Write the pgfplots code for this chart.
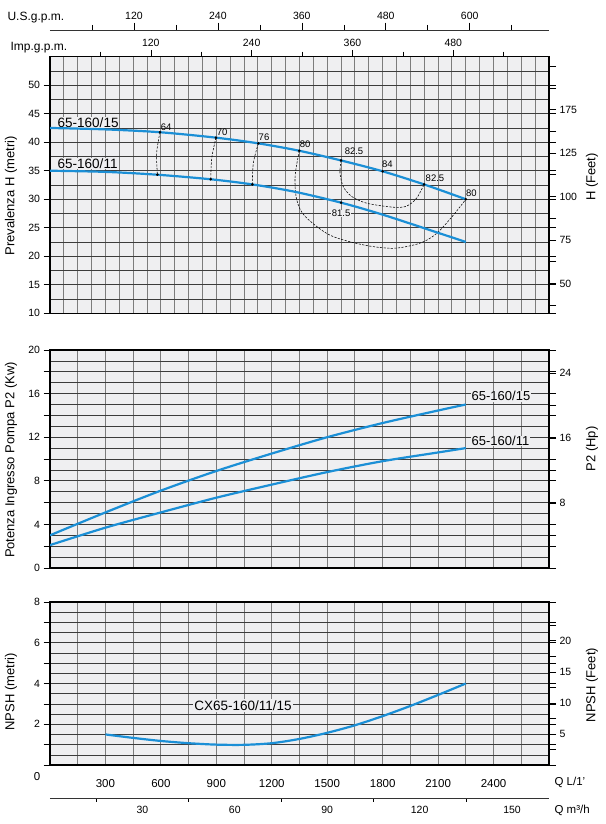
\documentclass[border=0pt]{standalone}
\usepackage{fontspec}
\setmainfont{Liberation Sans}
\usepackage{pgfplots}
\pgfplotsset{compat=1.18}
\definecolor{gridbg}{HTML}{EFEFF1}
\definecolor{pcurve}{HTML}{1B8FD6}
\definecolor{hgrid}{HTML}{3C3C3C}
\definecolor{vgrid}{HTML}{7C7C7C}
\newcommand{\fs}[1]{\fontsize{#1}{#1}\selectfont}
\tikzset{elab/.style={font=\fs{9.5}, inner sep=0.5pt}}
\pgfplotsset{
  panel/.style={
    scale only axis, width=499pt,
    xmin=0, xmax=2700,
    axis background/.style={fill=gridbg},
    axis line style={line width=1.3pt, black},
    /pgf/number format/assume math mode=true,
    tick align=outside,
    major tick length=6.5pt, minor tick length=0pt,
    xtick style={draw=none},
    ytick style={black, line width=0.6pt},
    xmajorgrids, ymajorgrids, yminorgrids,
    major x grid style={vgrid, line width=1.0pt},
    major y grid style={hgrid, line width=0.6pt},
    minor y grid style={hgrid, line width=0.6pt},
    yticklabel style={font=\fs{10.5}},
    xticklabels={},
  },
  rpanel/.style={
    scale only axis, width=499pt,
    xmin=0, xmax=2700,
    axis x line=none, axis y line*=right,
    axis line style={line width=1.3pt, black},
    /pgf/number format/assume math mode=true,
    tick align=outside, major tick length=7pt,
    ytick style={black, line width=0.6pt},
    yticklabel style={font=\fs{10.5}},
  },
  curve/.style={pcurve, line width=2.2pt, smooth},
  eff/.style={black, line width=0.55pt, dash pattern=on 2.2pt off 1.4pt, smooth},
  dots/.style={only marks, mark=*, mark size=1.1pt, black},
}
\begin{document}
\begin{tikzpicture}
\useasboundingbox (0,0) rectangle (605pt,824pt);

% ---------- US gpm axis ----------
\begin{axis}[scale only axis, width=499pt, height=10pt, at={(50pt,784pt)}, anchor=south west,
  xmin=0, xmax=713.34, ymin=0, ymax=1, axis y line=none, axis x line*=top,
  axis line style={line width=0.8pt, black!80},
  xtick={120,240,360,480,600}, minor xtick={60,180,300,420,540,660},
  tick align=outside, major tick length=7.3pt, minor tick length=5pt,
  tick style={black, line width=0.6pt},
  xticklabel style={font=\fs{10.5}}, /pgf/number format/assume math mode=true]
\addplot[draw=none] coordinates {(0,0)};
\end{axis}

% ---------- Panel 1 : head ----------
\begin{axis}[panel, at={(50pt,510.7pt)}, anchor=south west, height=256.6pt,
  ymin=10, ymax=55, xtick={0,75,...,2700}, ytick={10,15,...,50}, minor ytick={12.5,17.5,...,52.5},
  ylabel={Prevalenza H (metri)},
  every axis y label/.style={at={(axis description cs:-0.078,0.457)}, rotate=90, anchor=center, font=\fs{13}}]
\node[anchor=west, font=\fs{13.5}, fill=gridbg, inner sep=0.5pt] at (axis cs:38,43.5) {65-160/15};
\node[anchor=west, font=\fs{13.5}, fill=gridbg, inner sep=0.5pt] at (axis cs:38,36.2) {65-160/11};
% efficiency lines
\addplot[eff] coordinates {(595,41.75) (577,38.1) (581,34.3)};
\addplot[eff] coordinates {(898,40.8) (875,37.2) (870,33.5)};
\addplot[eff] coordinates {(1127,39.8) (1100,36.3) (1095,32.6)};
\addplot[eff] coordinates {(1349,38.5) (1326,34.0) (1335,29.9) (1380,27.0) (1515,23.7) (1695,22.0) (1858,21.4) (2002,22.3) (2092,24.0) (2182,27.2) (2250,30.0)};
\addplot[eff] coordinates {(1575,36.8) (1569,34.6) (1587,32.2) (1632,30.5) (1714,29.3) (1858,28.6) (1930,28.8) (1984,30.2) (2024,32.6)};
% curves
\addplot[curve] coordinates {(0,42.5) (300,42.25) (595,41.75) (898,40.8) (1127,39.8) (1349,38.5) (1575,36.8) (1800,34.9) (2024,32.6) (2250,30.0)};
\addplot[curve] coordinates {(0,35.0) (300,34.8) (581,34.3) (870,33.5) (1095,32.6) (1326,31.3) (1575,29.4) (1800,27.3) (2092,24.2) (2250,22.5)};
\addplot[dots] coordinates {(595,41.75) (898,40.8) (1127,39.8) (1349,38.5) (1575,36.8) (1800,34.9) (2024,32.6) (2250,30.0) (581,34.3) (870,33.5) (1095,32.6) (1575,29.4)};
\node[elab] at (axis cs:628,42.7) {64};
\node[elab] at (axis cs:931,41.8) {70};
\node[elab] at (axis cs:1158,40.8) {76};
\node[elab] at (axis cs:1380,39.7) {80};
\node[elab] at (axis cs:1645,38.5) {82.5};
\node[elab] at (axis cs:1825,36.1) {84};
\node[elab] at (axis cs:2083,33.6) {82.5};
\node[elab] at (axis cs:2280,31.05) {80};
\node[elab, fill=gridbg] at (axis cs:1575,27.5) {81.5};
\end{axis}

% Imp gpm on top of panel 1
\begin{axis}[scale only axis, width=499pt, height=256.6pt, at={(50pt,510.7pt)}, anchor=south west,
  xmin=0, xmax=593.93, ymin=0, ymax=1, axis y line=none, axis x line*=top,
  axis line style={line width=1.3pt, black},
  xtick={120,240,360,480}, minor xtick={60,180,300,420,540},
  tick align=outside, major tick length=6.7pt, minor tick length=5pt,
  tick style={black, line width=0.6pt},
  xticklabel style={font=\fs{10.5}}, /pgf/number format/assume math mode=true]
\addplot[draw=none] coordinates {(0,0)};
\end{axis}

% right: H feet
\begin{axis}[rpanel, at={(50pt,510.7pt)}, anchor=south west, height=256.6pt,
  ymin=32.808, ymax=180.446,
  ytick={37.5,50,62.5,75,87.5,100,112.5,125,137.5,150,162.5,175},
  yticklabels={,50,,75,,100,,125,,175,,},
  ylabel={H (Feet)},
  every axis y label/.style={at={(axis description cs:1.086,0.531)}, rotate=90, anchor=center, font=\fs{13}}]
\addplot[draw=none] coordinates {(0,40)};
\end{axis}

% ---------- Panel 2 : power ----------
\begin{axis}[panel, at={(50pt,256pt)}, anchor=south west, height=218pt,
  ymin=0, ymax=20, xtick={0,150,...,2700}, ytick={0,2,...,20}, yticklabels={0,,4,,8,,12,,16,,20},
  minor ytick={1,3,...,19},
  ylabel={Potenza Ingresso Pompa P2 (Kw)},
  every axis y label/.style={at={(axis description cs:-0.078,0.495)}, rotate=90, anchor=center, font=\fs{13}}]
\node[anchor=west, font=\fs{13}, fill=gridbg, inner sep=0.5pt] at (axis cs:2278,15.75) {65-160/15};
\node[anchor=west, font=\fs{13}, fill=gridbg, inner sep=0.5pt] at (axis cs:2278,11.65) {65-160/11};
\addplot[curve] coordinates {(0,3.0) (300,5.1) (600,7.1) (900,8.9) (1200,10.5) (1500,12.0) (1800,13.3) (2100,14.45) (2250,15.0)};
\addplot[curve] coordinates {(0,2.1) (300,3.7) (600,5.1) (900,6.45) (1200,7.65) (1500,8.8) (1800,9.8) (2100,10.6) (2250,11.0)};
\end{axis}

\begin{axis}[rpanel, at={(50pt,256pt)}, anchor=south west, height=218pt,
  ymin=0, ymax=26.82, ytick={4,8,...,24}, yticklabels={,8,,16,,24},
  ylabel={P2 (Hp)},
  every axis y label/.style={at={(axis description cs:1.086,0.546)}, rotate=90, anchor=center, font=\fs{13}}]
\addplot[draw=none] coordinates {(0,1)};
\end{axis}

% ---------- Panel 3 : NPSH ----------
\begin{axis}[panel, at={(50pt,59pt)}, anchor=south west, height=163pt,
  ymin=0, ymax=8, xtick={0,150,...,2700},
  xticklabels={,,300,,600,,900,,1200,,1500,,1800,,2100,,2400,,},
  xticklabel style={font=\fs{11.5}, yshift=-4pt},
  ytick={0,1,...,8}, yticklabels={,,2,,4,,6,,8}, minor ytick={0.5,1.5,...,7.5},
  ylabel={NPSH (metri)},
  every axis y label/.style={at={(axis description cs:-0.078,0.448)}, rotate=90, anchor=center, font=\fs{13}}]
\node[font=\fs{13.5}, fill=gridbg, inner sep=1.5pt] at (axis cs:1044,2.9) {CX65-160/11/15};
\addplot[curve] coordinates {(300,1.5) (450,1.33) (600,1.18) (750,1.07) (900,1.0) (1050,0.99) (1200,1.07) (1350,1.28) (1500,1.58) (1650,1.95) (1800,2.4) (1950,2.9) (2100,3.44) (2250,4.0)};
\end{axis}

\begin{axis}[rpanel, at={(50pt,59pt)}, anchor=south west, height=163pt,
  axis x line*=bottom, xtick={150,450,...,2550}, xticklabels={},
  xtick style={vgrid, line width=1.0pt},
  ymin=0, ymax=26.247, ytick={2.5,5,...,22.5}, yticklabels={,5,,10,,15,,20,},
  ylabel={NPSH (Feet)},
  every axis y label/.style={at={(axis description cs:1.086,0.49)}, rotate=90, anchor=center, font=\fs{13}}]
\addplot[draw=none] coordinates {(0,1)};
\end{axis}

% m3/h axis
\begin{axis}[scale only axis, width=499pt, height=10pt, at={(50pt,26pt)}, anchor=south west,
  xmin=0, xmax=162, ymin=0, ymax=1, axis y line=none, axis x line*=bottom,
  axis line style={line width=0.8pt, black!80},
  xtick={30,60,...,150}, minor xtick={15,45,...,135},
  tick align=outside, major tick length=0pt, minor tick length=3.5pt,
  tick style={black, line width=0.6pt},
  xticklabel style={font=\fs{10.5}, yshift=-5pt}, /pgf/number format/assume math mode=true]
\addplot[draw=none] coordinates {(0,0)};
\end{axis}

\node[anchor=west, font=\fs{12}] at (4pt,806pt) {U.S.g.p.m.};
\node[anchor=west, font=\fs{12}] at (7pt,776pt) {Imp.g.p.m.};
\node[font=\fs{11.5}] at (37pt,47pt) {0};
\node[anchor=west, font=\fs{11.5}] at (551pt,42pt) {Q L/1'};
\node[anchor=west, font=\fs{11.5}] at (551pt,14pt) {Q m³/h};
\end{tikzpicture}
\end{document}
